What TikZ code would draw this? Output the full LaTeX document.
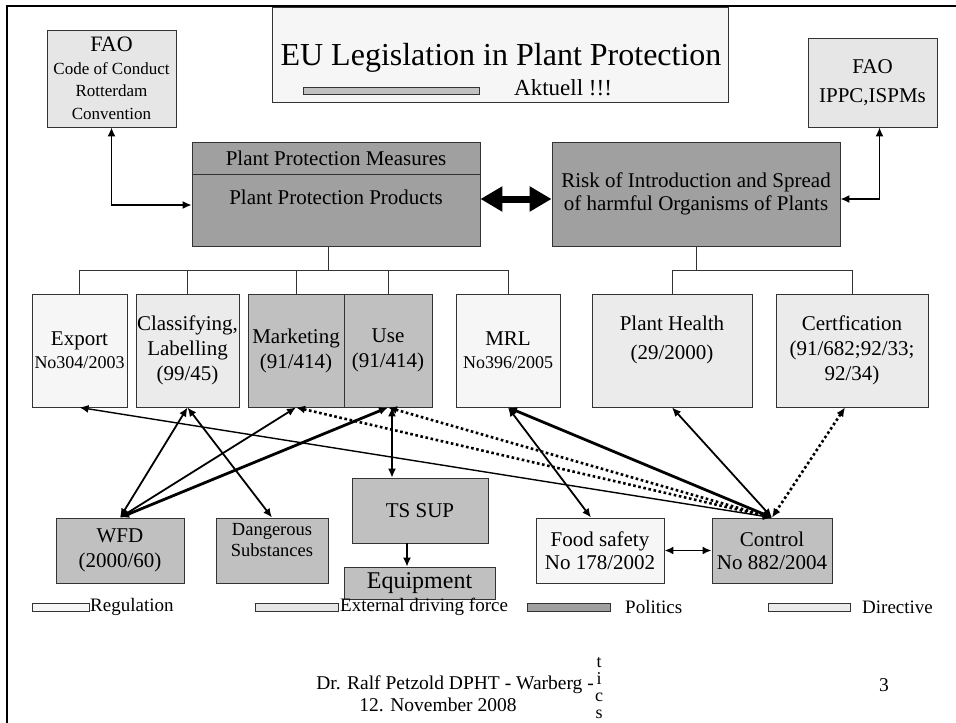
\documentclass[tikz,border=0pt]{standalone}
\usepackage{fontspec}
\setmainfont{Liberation Serif}
\usepackage{tikz}
\usetikzlibrary{arrows.meta,positioning}
\definecolor{regfill}{HTML}{F6F6F6}
\definecolor{extfill}{HTML}{E6E6E6}
\definecolor{dirfill}{HTML}{EBEBEB}
\definecolor{polfill}{HTML}{A0A0A0}
\definecolor{midfill}{HTML}{C0C0C0}
\tikzset{
  box/.style={draw=black!80,line width=0.9pt,align=center,inner sep=0pt,
    font=\fontsize{21}{25}\selectfont},
  regbox/.style={box,fill=regfill},
  extbox/.style={box,fill=extfill},
  dirbox/.style={box,fill=dirfill},
  polbox/.style={box,fill=polfill},
  midbox/.style={box,fill=midfill},
  keybox/.style={draw=black!80,line width=0.8pt,minimum height=8pt,inner sep=0pt},
  keytext/.style={anchor=west,inner sep=0pt,font=\fontsize{19}{22}\selectfont},
  link/.style={{Latex[length=9pt,width=8pt]}-{Latex[length=9pt,width=8pt]},line width=1.8pt},
  thinlink/.style={link,line width=1.4pt},
  boldlink/.style={link,line width=2.8pt},
  dotlink/.style={link,line width=2.6pt,dash pattern=on 2.6pt off 2.6pt},
  tree/.style={draw=black!80,line width=0.9pt}
}
\begin{document}
\begin{tikzpicture}[x=1pt,y=-1pt]
\useasboundingbox (0,0) rectangle (956,723);
\draw[line width=2.5pt] (956,6) -- (7,6) -- (7,723);

% title
\node[regbox,minimum width=456pt,minimum height=95pt] (titlebox) at (500,54.5) {};
\node[anchor=base,inner sep=0pt,font=\fontsize{32}{36}\selectfont] (title) at (501,65) {EU Legislation in Plant Protection};
\node[keybox,fill=midfill,minimum width=176pt,minimum height=7pt] (bar) at (391,90.5) {};
\node[anchor=base west,inner sep=0pt,font=\fontsize{23}{26}\selectfont] (aktuell) at (514,95) {Aktuell !!!};

% FAO
\node[extbox,minimum width=129pt,minimum height=97pt,font=\fontsize{17}{22.5}\selectfont] (fao1) at (111.5,78.5)
  {{\fontsize{22}{24}\selectfont FAO}\\Code of Conduct\\Rotterdam\\Convention};
\node[extbox,minimum width=129pt,minimum height=89pt] (fao2) at (872.5,82.5)
  {FAO\\[4pt]IPPC,ISPMs};

% politics
\node[polbox,minimum width=288pt,minimum height=32pt] (pmeas) at (336,158) {Plant Protection Measures};
\node[polbox,minimum width=288pt,minimum height=72pt] (pprod) at (336,210) {Plant Protection Products\\\mbox{}};
\node[polbox,minimum width=288pt,minimum height=104pt,font=\fontsize{21}{23}\selectfont] (risk) at (696,194)
  {Risk of Introduction and Spread\\of harmful Organisms of Plants};
\draw[line width=7pt,{Triangle[length=22pt,width=24pt]}-{Triangle[length=22pt,width=24pt]}]
  ([yshift=11pt]pprod.east) -- ([yshift=-5pt]risk.west);
\draw[link,line width=1.4pt] (fao1.south) |- ([yshift=5pt]pprod.west);
\draw[link,line width=1.4pt] ([xshift=7pt]fao2.south) |- ([yshift=-5pt]risk.east);

% second row
\node[regbox,minimum width=95pt,minimum height=113pt,font=\fontsize{18}{23}\selectfont] (export) at (79.5,350.5)
  {{\fontsize{21}{23}\selectfont Export}\\No304/2003};
\node[dirbox,minimum width=103pt,minimum height=113pt] (class) at (187.5,350.5) {Classifying,\\Labelling\\(99/45)};
\node[midbox,minimum width=96pt,minimum height=113pt] (market) at (296,350.5) {Marketing\\(91/414)};
\node[midbox,minimum width=88pt,minimum height=113pt] (use) at (388,350.5) {Use\\(91/414)};
\node[regbox,minimum width=104pt,minimum height=113pt,font=\fontsize{18}{23}\selectfont] (mrl) at (508,350.5)
  {{\fontsize{21}{23}\selectfont MRL}\\No396/2005};
\node[dirbox,minimum width=160pt,minimum height=113pt] (health) at (672,350.5) {Plant Health\\[4pt](29/2000)\\\mbox{}};
\node[dirbox,minimum width=152pt,minimum height=113pt] (cert) at (852,350.5) {Certfication\\(91/682;92/33;\\92/34)};

\draw[tree] ([xshift=-8pt]pprod.south) -- ++(0,24);
\foreach \n in {export,class,market,use,mrl}
  \draw[tree] ([xshift=-8pt]pprod.south) ++(0,24) -| (\n.north);
\draw[tree] (risk.south) -- ++(0,24);
\foreach \n in {health,cert}
  \draw[tree] (risk.south) ++(0,24) -| (\n.north);

% bottom row
\node[midbox,minimum width=128pt,minimum height=65pt] (wfd) at (120,550.5) {WFD\\(2000/60)};
\node[midbox,minimum width=112pt,minimum height=65pt,font=\fontsize{18.5}{21}\selectfont] (danger) at (272,550.5)
  {Dangerous\\Substances\\\mbox{}};
\node[midbox,minimum width=136pt,minimum height=65pt] (tssup) at (420,510.5) {TS SUP};
\node[midbox,minimum width=151pt,minimum height=32pt,font=\fontsize{24}{26}\selectfont] (equip) at (419.5,583) {Equipment};
\node[regbox,minimum width=128pt,minimum height=65pt,font=\fontsize{21}{23}\selectfont] (food) at (600,550.5) {Food safety\\No 178/2002};
\node[midbox,minimum width=120pt,minimum height=65pt,font=\fontsize{21}{23}\selectfont] (control) at (772,550.5) {Control\\No 882/2004};

\draw[thinlink] (export.south) -- (control.north);
\draw[link] (class.south) -- (wfd.north);
\draw[link] (class.south) -- (danger.north);
\draw[link] (market.south) -- (wfd.north);
\draw[boldlink] (use.south) -- (wfd.north);
\draw[dotlink] (market.south) -- (control.north);
\draw[dotlink] (use.south) -- (control.north);
\draw[thinlink] ([xshift=4pt]use.south) -- ([xshift=4pt]use.south |- tssup.north);
\draw[-{Latex[length=9pt,width=8pt]},line width=1.4pt] ([xshift=-13pt]tssup.south) -- ([xshift=-13pt]tssup.south |- equip.north);
\draw[link] (mrl.south) -- ([xshift=-9pt]food.north);
\draw[boldlink] (mrl.south) -- (control.north);
\draw[link] (health.south) -- (control.north);
\draw[dotlink] ([xshift=-7pt]cert.south) -- (control.north);
\draw[link] (food.east) -- (control.west);

% legend
\node[keybox,fill=regfill,minimum width=57pt] (kreg) at (60.5,607) {};
\node[keytext] (treg) at (90,607) {Regulation};
\node[keybox,fill=extfill,minimum width=83pt] (kext) at (296.5,607) {};
\node[keytext] (text) at (340,607) {External driving force};
\node[keybox,fill=polfill,minimum width=83pt] (kpol) at (568.5,607) {};
\node[keytext] (tpol) at (625,607) {Politics};
\node[keybox,fill=dirfill,minimum width=82pt] (kdir) at (809,607) {};
\node[keytext] (tdir) at (862,607) {Directive};

% footer
\node[anchor=east,inner sep=0pt,font=\fontsize{19.5}{22}\selectfont] (foot1) at (594,685) {Dr. Ralf Petzold DPHT - Warberg -};
\node[inner sep=0pt,font=\fontsize{19.5}{22}\selectfont] (foot2) at (438,705) {12. November 2008};
\node[align=center,inner sep=0pt,font=\fontsize{18}{17}\selectfont] (tics) at (599,688) {t\\i\\c\\s};
\node[inner sep=0pt,font=\fontsize{19.5}{22}\selectfont] (page) at (884,685) {3};
\end{tikzpicture}
\end{document}
